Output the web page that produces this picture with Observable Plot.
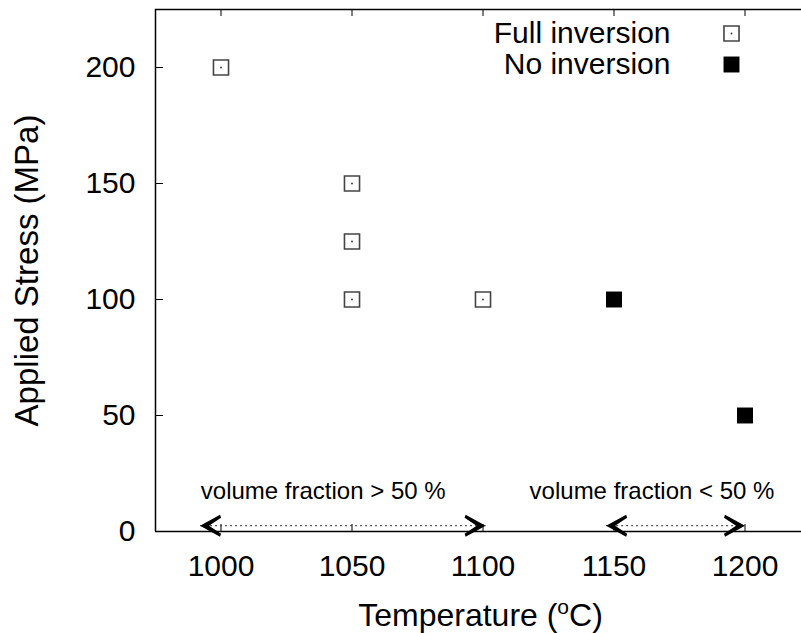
<!DOCTYPE html>
<html>
<head>
<meta charset="utf-8">
<script src="https://cdn.jsdelivr.net/npm/d3@7"></script>
<script src="https://cdn.jsdelivr.net/npm/@observablehq/plot@0.6"></script>
<style>
  html, body { margin: 0; padding: 0; background: white; }
  #chart svg { display: block; }
</style>
</head>
<body>
<div id="chart"></div>
<script>
// ---- data ----
const fullTemp = [1000, 1050, 1050, 1050, 1100];
const fullStress = [200, 150, 125, 100, 100];
const noTemp = [1150, 1200];
const noStress = [100, 50];

const xTicks = [1000, 1050, 1100, 1150, 1200];
const yTicks = [0, 50, 100, 150, 200];
const xDomain = [975, 1225];
const yDomain = [0, 225];

const arrowStart = [992, 1147];
const arrowEnd = [1101, 1200];
const arrowY = [2.5, 2.5];

const annotText = ["volume fraction > 50 %", "volume fraction < 50 %"];
const annotX = [1039, 1164.5];
const annotY = [17.5, 17.5];

const legendLabels = ["Full inversion", "No inversion"];
const xLabel = "Temperature (oC)";
const yLabel = "Applied Stress (MPa)";

// ---- derived tables ----
const full = fullTemp.map((t, i) => ({t, s: fullStress[i]}));
const none = noTemp.map((t, i) => ({t, s: noStress[i]}));
const arrows = arrowStart.map((a, i) => ({x1: a, x2: arrowEnd[i], y: arrowY[i]}));
const annots = annotText.map((text, i) => ({text, x: annotX[i], y: annotY[i]}));

const headLeft = {draw(ctx) {
  ctx.moveTo(0, 0); ctx.lineTo(20, -11); ctx.lineTo(21, -8); ctx.lineTo(9, 0);
  ctx.lineTo(21, 8); ctx.lineTo(20, 11); ctx.closePath();
}};
const headRight = {draw(ctx) {
  ctx.moveTo(0, 0); ctx.lineTo(-20, -11); ctx.lineTo(-21, -8); ctx.lineTo(-9, 0);
  ctx.lineTo(-21, 8); ctx.lineTo(-20, 11); ctx.closePath();
}};

const openStyle = {symbol: "square", r: 8.5, fill: "white", stroke: "#444", strokeWidth: 1.6};
const filledStyle = {symbol: "square", r: 9, fill: "black", stroke: "none"};

const chart = Plot.plot({
  width: 801,
  height: 633,
  marginLeft: 155,
  marginRight: 0,
  marginTop: 9,
  marginBottom: 102,
  x: {domain: xDomain, range: [155, 810]},
  y: {domain: yDomain},
  style: {fontFamily: "'Liberation Sans', Arial, Helvetica, sans-serif", background: "white", color: "black"},
  marks: [
    // frame (left, top, bottom)
    Plot.ruleX([xDomain[0]], {stroke: "black", strokeWidth: 1.5}),
    Plot.ruleY([yDomain[0], yDomain[1]], {stroke: "black", strokeWidth: 1.5}),
    // inward ticks
    Plot.tickX(xTicks, {x: d => d, insetTop: 515, stroke: "black", strokeWidth: 1}),
    Plot.tickX(xTicks, {x: d => d, insetBottom: 515, stroke: "black", strokeWidth: 1}),
    Plot.tickY(yTicks, {y: d => d, insetRight: 638, stroke: "black", strokeWidth: 1}),
    // axis labels
    Plot.axisX(xTicks, {tickSize: 0, tickPadding: 23, fontSize: 30, tickFormat: d => String(d), label: null}),
    Plot.axisY(yTicks, {tickSize: 0, tickPadding: 20, fontSize: 30, tickFormat: d => String(d), label: null}),
    Plot.text([xLabel], {frameAnchor: "bottom", textAnchor: "middle", lineAnchor: "middle", dx: 2, dy: 84, fontSize: 32}),
    Plot.text([yLabel], {frameAnchor: "left", textAnchor: "middle", lineAnchor: "middle", dx: -128, rotate: -90, fontSize: 33}),
    // arrows
    Plot.link(arrows, {x1: "x1", x2: "x2", y1: "y", y2: "y", stroke: "#333", strokeWidth: 1, strokeDasharray: "2,3"}),
    Plot.dot(arrows, {x: "x1", y: "y", symbol: headLeft, r: 10, fill: "black", stroke: "none"}),
    Plot.dot(arrows, {x: "x2", y: "y", symbol: headRight, r: 10, fill: "black", stroke: "none"}),
    Plot.text(annots, {x: "x", y: "y", text: "text", fontSize: 24}),
    // data
    Plot.dot(full, {x: "t", y: "s", ...openStyle}),
    Plot.dot(full, {x: "t", y: "s", r: 0.9, fill: "#333", stroke: "none"}),
    Plot.dot(none, {x: "t", y: "s", ...filledStyle}),
    // legend
    ...legendLabels.map((label, i) =>
      Plot.text([label], {frameAnchor: "top-right", textAnchor: "end", lineAnchor: "middle", dx: -131, dy: 24 + 31 * i, fontSize: 30})),
    Plot.dot([legendLabels[0]], {frameAnchor: "top-right", dx: -70, dy: 24, ...openStyle}),
    Plot.dot([legendLabels[0]], {frameAnchor: "top-right", dx: -70, dy: 24, r: 0.9, fill: "#333", stroke: "none"}),
    Plot.dot([legendLabels[1]], {frameAnchor: "top-right", dx: -70, dy: 55, ...filledStyle})
  ]
});

// superscript "o" in the x label
for (const t of chart.querySelectorAll("text")) {
  if (t.textContent === xLabel) {
    t.textContent = "";
    const ns = "http://www.w3.org/2000/svg";
    const a = document.createElementNS(ns, "tspan"); a.textContent = "Temperature (";
    const b = document.createElementNS(ns, "tspan"); b.textContent = "o";
    b.setAttribute("font-size", "21px"); b.setAttribute("dy", "-12px");
    const c = document.createElementNS(ns, "tspan"); c.textContent = "C)";
    c.setAttribute("dy", "12px");
    t.append(a, b, c);
  }
}
document.getElementById("chart").append(chart);
</script>
</body>
</html>
